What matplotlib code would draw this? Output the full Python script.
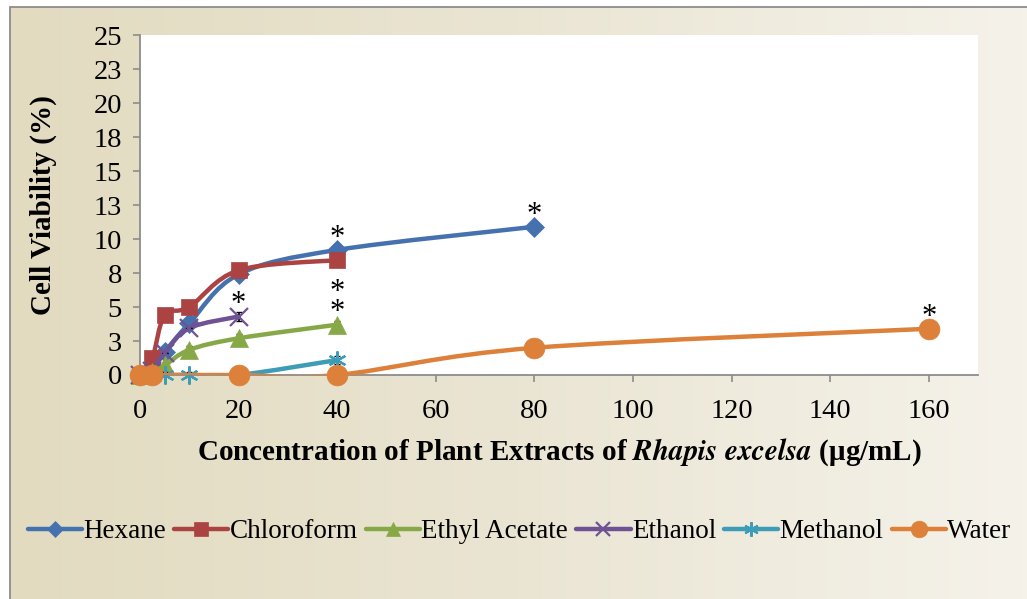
import numpy as np
import matplotlib
matplotlib.use('Agg')
import matplotlib.pyplot as plt
from matplotlib.path import Path
from matplotlib.patches import PathPatch, Rectangle
from matplotlib.lines import Line2D

plt.rcParams['font.family'] = ['Liberation Serif', 'DejaVu Serif']
plt.rcParams['mathtext.fontset'] = 'stix'

# concentrations (ug/mL) and viability (%) for each extract
hexane_x = [0, 2.5, 5, 10, 20, 40, 80]
hexane_y = [0, 0.6, 1.7, 3.8, 7.4, 9.2, 10.9]
chloroform_x = [0, 2.5, 5, 10, 20, 40]
chloroform_y = [0, 1.25, 4.4, 5.0, 7.7, 8.45]
ethyl_x = [0, 2.5, 5, 10, 20, 40]
ethyl_y = [0, 0.2, 0.7, 1.85, 2.7, 3.7]
ethanol_x = [0, 2.5, 5, 10, 20]
ethanol_y = [0, 0.3, 1.65, 3.45, 4.3]
methanol_x = [0, 2.5, 5, 10, 20, 40]
methanol_y = [0, 0, 0, 0, 0, 1.1]
water_x = [0, 2.5, 20, 40, 80, 160]
water_y = [0, 0, 0, 0, 2.0, 3.4]

# standard deviations (only the visible ones)
hexane_err = [0, 0, 0, 0, 0, 0, 0]
chloroform_err = [0, 0, 0, 0, 0, 0]
ethyl_err = [0, 0, 0, 0.3, 0.3, 0.3]
ethanol_err = [0, 0, 0, 0, 0.35]
methanol_err = [0, 0, 0.25, 0.25, 0, 0.3]
water_err = [0, 0, 0, 0, 0, 0]

names = ['Hexane', 'Chloroform', 'Ethyl Acetate', 'Ethanol', 'Methanol', 'Water']
colors = ['#4572AF', '#AA4341', '#87A847', '#6F5293', '#3E9CB6', '#DC803A']
markers = ['D', 's', '^', 'x', (6, 2, 0), 'o']
msizes = [10.5, 12, 13, 13, 13, 15]

# significance marks: (series index, point index, number of stars)
stars = [(0, 5, 1), (0, 6, 1), (3, 4, 1), (2, 5, 2), (5, 5, 1)]

xticks = [0, 20, 40, 60, 80, 100, 120, 140, 160]
yticks = [0, 2.5, 5, 7.5, 10, 12.5, 15, 17.5, 20, 22.5, 25]
ytick_labels = ['0', '3', '5', '8', '10', '13', '15', '18', '20', '23', '25']


def smooth_path(xs, ys):
    '''Excel-like smoothed line (Catmull-Rom as cubic Bezier)'''
    pts = np.column_stack([xs, ys]).astype(float)
    n = len(pts)
    verts = [pts[0]]
    codes = [Path.MOVETO]
    for i in range(n - 1):
        p0 = pts[max(i - 1, 0)]
        p1 = pts[i]
        p2 = pts[i + 1]
        p3 = pts[min(i + 2, n - 1)]
        verts += [p1 + (p2 - p0) / 6, p2 - (p3 - p1) / 6, p2]
        codes += [Path.CURVE4] * 3
    return Path(verts, codes)


def main():
    fig = plt.figure(figsize=(10.27, 5.99), dpi=100)

    # parchment gradient background with a grey frame
    bg = fig.add_axes([0, 0, 1, 1], zorder=-10)
    bg.set_xlim(0, 1)
    bg.set_ylim(0, 1)
    bg.axis('off')
    grad = np.linspace(0, 1, 256).reshape(1, -1)
    cmap = matplotlib.colors.LinearSegmentedColormap.from_list(
        'parch', ['#E2DBC0', '#EAE5D3', '#F5F2EA'])
    bg.imshow(grad, cmap=cmap, aspect='auto', extent=[10 / 1027, 1, 0, 1 - 7 / 599])
    bg.add_patch(Rectangle((10 / 1027, -0.01), 1.0, 1 - 7 / 599 + 0.01,
                           fill=False, edgecolor='#8C8C8C', lw=1.3))

    ax = fig.add_axes([140 / 1027, 1 - 375 / 599, (978 - 140) / 1027, (375 - 35) / 599])
    ax.set_facecolor('white')

    xs_all = [hexane_x, chloroform_x, ethyl_x, ethanol_x, methanol_x, water_x]
    ys_all = [hexane_y, chloroform_y, ethyl_y, ethanol_y, methanol_y, water_y]
    err_all = [hexane_err, chloroform_err, ethyl_err, ethanol_err, methanol_err, water_err]

    handles = []
    for i in range(6):
        z = 3 + i
        ax.add_patch(PathPatch(smooth_path(xs_all[i], ys_all[i]), fill=False,
                               edgecolor=colors[i], lw=3.2, capstyle='round',
                               joinstyle='round', zorder=z))
        ax.errorbar(xs_all[i], ys_all[i], yerr=err_all[i], fmt='none',
                    ecolor='black', elinewidth=1.2, capsize=2, zorder=z)
        mew = 1.6 if markers[i] in ('x',) or isinstance(markers[i], tuple) else 0.5
        ax.plot(xs_all[i], ys_all[i], linestyle='none', marker=markers[i],
                ms=msizes[i], color=colors[i], mec=colors[i], mew=mew, zorder=z,
                clip_on=False)
        handles.append(Line2D([], [], color=colors[i], lw=3.2, marker=markers[i],
                              ms=msizes[i] * 0.8, mec=colors[i], mew=mew,
                              solid_capstyle='round'))

    # asterisks above significant points (stacked in one text when doubled)
    for s, k, n in stars:
        ax.annotate('\n'.join(['*'] * n), xy=(xs_all[s][k], ys_all[s][k]),
                    xytext=(0, -2), textcoords='offset points',
                    ha='center', va='bottom', fontsize=22, color='black',
                    linespacing=0.62, zorder=20)

    ax.set_xlim(0, 170)
    ax.set_ylim(0, 25)
    ax.set_xticks(xticks)
    ax.set_yticks(yticks)
    ax.set_yticklabels(ytick_labels)
    ax.tick_params(axis='both', direction='out', length=5, width=1.2,
                   color='#8C8C8C', labelsize=20.5)
    ax.tick_params(axis='y', pad=8)
    ax.tick_params(axis='x', pad=12)
    for side in ('top', 'right'):
        ax.spines[side].set_visible(False)
    for side in ('left', 'bottom'):
        ax.spines[side].set_color('#8C8C8C')
        ax.spines[side].set_linewidth(1.3)

    ax.set_ylabel('Cell Viability (%)', fontsize=21, fontweight='bold', labelpad=26)
    ax.set_xlabel(r'Concentration of Plant Extracts of $\mathbfit{Rhapis\ excelsa}$ (μg/mL)',
                  fontsize=21, fontweight='bold', labelpad=9)

    fig.legend(handles, names, loc='center', bbox_to_anchor=(0.506, 1 - 532 / 599),
               ncol=6, frameon=False, fontsize=19.5, handlelength=2.0,
               handletextpad=0.05, columnspacing=0.3, borderaxespad=0)

    fig.savefig('out.png', dpi=100)


if __name__ == '__main__':
    main()
